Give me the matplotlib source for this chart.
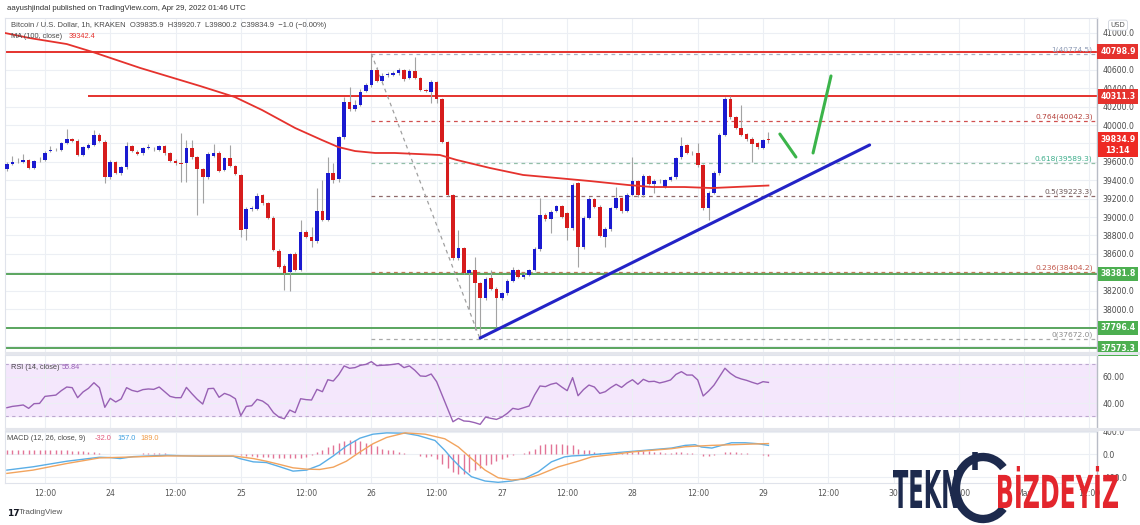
import numpy as np
import matplotlib
matplotlib.use("Agg")
import matplotlib.pyplot as plt
from matplotlib.patches import PathPatch, Rectangle, Arc
from matplotlib.textpath import TextPath
from matplotlib.font_manager import FontProperties
from matplotlib.transforms import Affine2D, blended_transform_factory

# ===== data (prices) =====
# hourly candles, x = hours counted from Apr 23 00:00
hours = np.arange(5, 146)

opens = [39518, 39576, 39605, 39598, 39620, 39533, 39616, 39620, 39718, 39725,
         39728, 39801, 39844, 39830, 39674, 39747, 39783, 39895, 39819, 39431,
         39598, 39482, 39540, 39772, 39707, 39692, 39747, 39739, 39728, 39772,
         39692, 39612, 39583, 39583, 39747, 39649, 39518, 39431, 39663, 39699,
         39511, 39638, 39555, 39457, 38873, 39091, 39091, 39239, 39149, 38993,
         38634, 38468, 38402, 38598, 38424, 38837, 38786, 38736, 39065, 38968,
         39482, 39410, 39866, 40246, 40170, 40221, 40373, 40431, 40598, 40482,
         40547, 40547, 40562, 40598, 40511, 40591, 40511, 40381, 40362, 40467,
         40279, 39819, 39239, 38551, 38660, 38395, 38424, 38279, 38116, 38337,
         38221, 38116, 38170, 38308, 38424, 38344, 38373, 38424, 38649, 39018,
         38975, 39069, 39120, 39040, 38877, 39366, 38670, 38993, 39192, 39113,
         38786, 38866, 39094, 39207, 39069, 39243, 39388, 39236, 39446, 39359,
         39395, 39330, 39402, 39431, 39649, 39779, 39699, 39692, 39562, 39094,
         39265, 39475, 39895, 40279, 40083, 39968, 39902, 39852, 39801, 39747,
         39835.9]
highs = [39602, 39663, 39638, 39685, 39634, 39620, 39649, 39721, 39772, 39750,
         39819, 39953, 39859, 39844, 39772, 39801, 39946, 39910, 39837, 39620,
         39612, 39555, 39815, 39786, 39728, 39765, 39794, 39757, 39786, 39786,
         39707, 39634, 39910, 39837, 39837, 39663, 39533, 39707, 39794, 39714,
         39656, 39783, 39569, 39468, 39113, 39120, 39258, 39250, 39163, 39011,
         38649, 38489, 38613, 38620, 38968, 38859, 38895, 39312, 39402, 39656,
         39583, 39881, 40308, 40417, 40272, 40388, 40453, 40774.5, 40634, 40562,
         40576, 40584, 40620, 40612, 40605, 40740, 40526, 40395, 40489, 40482,
         40294, 39830, 39250, 38859, 38678, 38439, 38569, 38294, 38344, 38424,
         38236, 38185, 38330, 38460, 38439, 38395, 38439, 38670, 39203, 39040,
         39076, 39134, 39134, 39055, 39366, 39381, 39011, 39221, 39207, 39127,
         38888, 39113, 39330, 39221, 39265, 39656, 39402, 39468, 39460, 39410,
         39410, 39417, 39446, 39656, 39873, 39794, 39714, 39808, 39576, 39286,
         39504, 39910, 40301, 40311.3, 40098, 40218, 39917, 39866, 39815, 39852,
         39920.7]
lows = [39504, 39565, 39591, 39591, 39526, 39518, 39598, 39612, 39707, 39714,
        39718, 39794, 39819, 39663, 39663, 39736, 39772, 39819, 39373, 39410,
        39468, 39453, 39526, 39707, 39670, 39678, 39736, 39721, 39714, 39678,
        39598, 39569, 39384, 39384, 39634, 39022, 39149, 39417, 39649, 39489,
        39497, 39540, 39453, 38786, 38750, 39069, 39076, 39134, 38978, 38627,
        38446, 38207, 38200, 38410, 38410, 38772, 38678, 38721, 38953, 38953,
        39373, 39381, 39852, 40156, 40149, 40207, 40359, 40417, 40467, 40467,
        40526, 40533, 40547, 40482, 40496, 40496, 40366, 40359, 40236, 40236,
        39808, 39228, 38533, 38533, 38381, 37997, 37772, 37672, 38098, 38207,
        37808, 38098, 38156, 38294, 38337, 38330, 38359, 38410, 38634, 38960,
        38830, 39055, 38989, 38750, 38859, 38460, 38656, 38978, 39098, 38779,
        38678, 38852, 39084, 39040, 39055, 39228, 39221, 39221, 39344, 39258,
        39373, 39315, 39388, 39417, 39634, 39685, 39678, 39547, 39076, 38968,
        39250, 39460, 39881, 40069, 39953, 39877, 39830, 39602, 39743, 39736,
        39800.2]
closes = [39576, 39598, 39612, 39620, 39533, 39605, 39623, 39699, 39725, 39732,
          39801, 39844, 39830, 39674, 39757, 39783, 39895, 39830, 39431, 39598,
          39482, 39540, 39772, 39721, 39685, 39750, 39757, 39736, 39772, 39692,
          39612, 39583, 39580, 39747, 39649, 39518, 39431, 39685, 39699, 39504,
          39638, 39555, 39468, 38859, 39091, 39094, 39232, 39149, 38993, 38641,
          38460, 38395, 38598, 38424, 38837, 38786, 38736, 39065, 38968, 39475,
          39402, 39866, 40246, 40170, 40221, 40362, 40431, 40598, 40482, 40533,
          40551, 40562, 40598, 40496, 40591, 40511, 40381, 40373, 40467, 40279,
          39819, 39239, 38551, 38660, 38395, 38424, 38279, 38116, 38323, 38221,
          38116, 38170, 38308, 38424, 38352, 38373, 38424, 38649, 39018, 38975,
          39055, 39120, 39004, 38877, 39348, 38670, 38993, 39192, 39113, 38794,
          38866, 39094, 39207, 39069, 39243, 39388, 39236, 39446, 39359, 39395,
          39388, 39402, 39431, 39638, 39772, 39699, 39692, 39562, 39094, 39265,
          39482, 39888, 40279, 40083, 39968, 39891, 39844, 39794, 39757, 39837,
          39834.9]

# MA(100) read at a few points
ma_t = [4.65, 9.2, 16, 20.8, 29.5, 40.5, 46.9, 51.9, 58, 62.9, 65.9, 69, 72.7, 76.3,
        84.6, 87.7, 93.8, 99.9, 106.1, 112.2, 119.2, 123.6, 129.6, 134.6, 138.8, 145]
ma_v = [41000, 40945, 40880, 40793, 40620, 40424, 40304, 40163, 39967, 39837, 39761,
        39717, 39696, 39696, 39674, 39620, 39533, 39457, 39424, 39391, 39348, 39326,
        39326, 39315, 39326, 39342.4]

rsi = [36.4, 37.4, 37.9, 38.5, 35.9, 39.5, 39.7, 45.1, 45.6, 46.1,
       49.5, 52.3, 51.8, 44.1, 48.5, 51.3, 55.6, 51.8, 36.7, 43.6,
       40.8, 43.1, 51.8, 49.7, 48.7, 50.3, 50.8, 50.5, 52.3, 48.7,
       45.1, 44.1, 44.1, 52.0, 47.2, 42.8, 39.2, 51.0, 51.3, 44.4,
       47.4, 45.9, 43.3, 30.3, 37.4, 37.9, 42.8, 41.5, 38.5, 32.6,
       29.2, 27.9, 34.6, 32.6, 43.3, 42.6, 42.3, 50.5, 48.7, 57.9,
       56.9, 61.8, 68.5, 66.7, 67.2, 69.0, 69.7, 71.8, 68.7, 69.0,
       69.2, 69.7, 70.3, 67.2, 68.5, 65.1, 60.8, 60.5, 62.3, 56.4,
       46.1, 35.9, 25.6, 28.2, 26.2, 25.9, 24.9, 23.6, 29.2, 28.2,
       27.4, 29.2, 32.1, 35.9, 35.1, 36.4, 37.7, 46.1, 53.1, 52.6,
       54.4, 55.4, 52.3, 49.5, 59.5, 45.6, 50.3, 53.8, 52.3, 47.4,
       48.7, 51.8, 54.4, 52.0, 55.4, 57.9, 54.4, 58.2, 56.4, 56.7,
       55.4, 56.4, 57.7, 62.0, 64.1, 61.5, 61.5, 57.7, 45.4, 49.2,
       53.8, 60.3, 66.7, 62.8, 60.0, 58.5, 57.4, 55.9, 54.6, 56.4,
       55.84]

macd_t = [5, 9.8, 16, 22, 24, 25.8, 28.2, 34.4, 40.5, 46.6, 47.8, 50.3, 52.7, 55.2,
          57.6, 60.1, 62.5, 65, 67.4, 69.9, 72.3, 74.8, 78.2, 80.6, 83.7, 85.5, 86.8,
          88.6, 90.4, 92.9, 95.3, 97.8, 100.2, 102.7, 105.1, 107.5, 108.8, 111.3,
          114.9, 118.6, 122.3, 127.2, 129.7, 131.5, 132.7, 134.6, 136.4, 138.2,
          140.7, 143.1, 145]
macd_v = [-278, -220, -122, -52, -58, -75, -41, -17, -35, -35, -75, -133, -145, -220,
          -296, -278, -191, -29, 145, 284, 354, 377, 371, 330, 243, 70, -75,
          -249, -394, -470, -493, -470, -423, -307, -133, -46, -29, -17,
          12, 41, 70, 110, 157, 168, 128, 110, 157, 203,
          203, 186, 157]
signal_t = [5, 9.8, 16, 22, 28.2, 34.4, 40.5, 46.6, 50.3, 52.7, 55.2, 57.6, 60.1, 62.5,
            65, 67.4, 69.9, 72.3, 74.8, 78.2, 81.9, 85.5, 88, 90.4, 92.9, 95.3, 97.8,
            100.2, 102.7, 106.4, 110, 112.5, 116.2, 119.9, 123.5, 127.2, 129.7, 132.1,
            134.6, 138.2, 141.9, 145]
signal_v = [-336, -278, -162, -64, -46, -29, -29, -29, -75, -122, -180, -238, -261, -267,
            -226, -122, 41, 186, 296, 377, 354, 273, 128, -75, -278, -412, -452,
            -435, -365, -220, -122, -46, -6, 41, 70, 99, 133, 145,
            157, 168, 180, 189]
hist = [70, 70, 70, 70, 70, 70, 70, 70, 70, 70,
        70, 70, 65, 60, 55, 45, 35, 25, 10, 5,
        3, 2, 8, 10, 12, 15, 18, 20, 18, 15,
        10, 8, 6, 6, 5, 4, 2, 3, 4, 3,
        2, 2, 1, -20, -30, -35, -40, -45, -50, -60,
        -65, -70, -72, -70, -60, -40, -5, 40, 70, 128,
        168, 203, 232, 244, 244, 226, 203, 174, 139, 87,
        80, 70, 41, 23, 12, 3, -29, -46, -35, -87,
        -162, -249, -307, -354, -348, -307, -278, -249, -191, -162,
        -122, -87, -46, -17, 12, 23, 52, 99, 157, 180,
        180, 186, 186, 157, 157, 99, 81, 70, 41, 29,
        6, -3, 23, 29, 41, 41, 52, 52, 52, 41,
        41, 29, 29, 41, 41, 29, 23, 2, -29, -35,
        -17, 2, 41, 41, 41, 29, 23, 6, -3, -8,
        -32]

# drawings
red_levels = [40798.9, 40311.3]
green_levels = [38381.8, 37796.4, 37573.3]
fib_ratios = ["1", "0.764", "0.618", "0.5", "0.236", "0"]
fib_prices = [40774.5, 40042.3, 39589.3, 39223.3, 38404.2, 37672.0]
fib_diag_t = [72, 92]
fib_diag_p = [40774.5, 37672.0]
trend_t = [92, 163.6]
trend_p = [37685, 39783]
stroke1_t = [147.1, 150.05]
stroke1_p = [39902, 39652]
stroke2_t = [153.2, 156.5]
stroke2_p = [39696, 40533]

x_ticks = list(range(12, 205, 12))
x_labels = ["12:00", "24", "12:00", "25", "12:00", "26", "12:00", "27", "12:00",
            "28", "12:00", "29", "12:00", "30", "12:00", "May", "12:00"]
price_ticks = list(range(37600, 41001, 200))
hidden_ticks = [37600, 37800, 38400, 39800, 40800]   # sit under the coloured tags

UP = "#1a1ad0"
DOWN = "#d61c1c"
RED = "#e5322d"
GREEN = "#5aa55e"

W, H = 1140, 525
fig = plt.figure(figsize=(W / 100, H / 100), dpi=100)


def frac(x0, y0, x1, y1):
    return [x0 / W, 1 - y1 / H, (x1 - x0) / W, (y1 - y0) / H]


ax = fig.add_axes(frac(5, 18, 1097, 352))
ax_rsi = fig.add_axes(frac(5, 355, 1097, 428), sharex=ax)
ax_macd = fig.add_axes(frac(5, 431, 1097, 483), sharex=ax)

for a in (ax, ax_rsi, ax_macd):
    a.set_facecolor("white")
    for s in ("top", "left", "bottom"):
        a.spines[s].set_color("#e0e3eb")
        a.spines[s].set_linewidth(0.8)
    a.spines["right"].set_color("#b8bcc6")
    a.spines["right"].set_linewidth(1.0)
    a.grid(True, color="#eceff4", lw=0.8)
    a.set_axisbelow(True)
    a.yaxis.tick_right()
    a.tick_params(length=0, labelsize=5.6, labelcolor="#4a4a4a", pad=4)

ax.set_xlim(4.65, 205.4)
ax.set_xticks(x_ticks)
ax_macd.set_xticklabels(x_labels)
ax.tick_params(labelbottom=False)
ax_rsi.tick_params(labelbottom=False)

# ---------- main price panel ----------
ax.set_ylim(37533, 41163)
ax.set_yticks(price_ticks)
ax.set_yticklabels(["" if p in hidden_ticks else f"{p:.1f}" for p in price_ticks])

o = np.array(opens)
c = np.array(closes)
hi = np.array(highs)
lo = np.array(lows)
up = c >= o
body_lo = np.minimum(o, c)
body_h = np.maximum(np.abs(c - o), 8)
ax.vlines(hours, lo, hi, color="#a3a3a3", lw=0.8, zorder=3)
ax.bar(hours, body_h, bottom=body_lo, width=0.66,
       color=np.where(up, UP, DOWN), linewidth=0, zorder=4)

ax.plot(ma_t, ma_v, color=RED, lw=1.3, zorder=5)

ax.hlines(red_levels[0], 4.65, 205.4, color=RED, lw=1.4, zorder=2)
ax.hlines(red_levels[1], 19.9, 205.4, color=RED, lw=1.4, zorder=2)
for g in green_levels:
    ax.hlines(g, 4.65, 205.4, color=GREEN, lw=1.4, zorder=2)

fib_line_cols = ["#a9b1c2", "#d05050", "#93bfa8", "#8f6a6a", "#c07a58", "#aaaaaa"]
fib_text_cols = ["#8e9bb5", "#b5413b", "#3fae8c", "#6b5757", "#c2574a", "#8c8c8c"]
for r, p, lc, tc in zip(fib_ratios, fib_prices, fib_line_cols, fib_text_cols):
    ax.hlines(p, 72, 205.0, color=lc, lw=0.9, linestyles=(0, (3, 3)), zorder=2)
    ax.text(204.6, p + 12, f"{r}({p:.1f})", ha="right", va="bottom",
            fontsize=5.4, color=tc, zorder=6)
ax.plot(fib_diag_t, fib_diag_p, color="#a0a0a0", lw=0.9, ls=(0, (3, 3)), zorder=2)

ax.plot(trend_t, trend_p, color="#2323c6", lw=2.2, solid_capstyle="round", zorder=6)
ax.plot(stroke1_t, stroke1_p, color="#3bb44a", lw=2.2, solid_capstyle="round", zorder=6)
ax.plot(stroke2_t, stroke2_p, color="#3bb44a", lw=2.2, solid_capstyle="round", zorder=6)

# right-hand price tags
tag_tr = blended_transform_factory(ax.transAxes, ax.transData)


def price_tag(y, text, color, va="center"):
    ax.text(1.0192, y, text, transform=tag_tr, ha="center", va=va, fontsize=5.6,
            color="white", fontweight="bold", clip_on=False, zorder=10,
            bbox=dict(boxstyle="square,pad=0.35", fc=color, ec="none"))


for lv in red_levels:
    price_tag(lv, f"{lv:.1f}", RED)
for lv in green_levels:
    price_tag(lv, f"{lv:.1f}", "#4caf50")
price_tag(closes[-1] + 55, f"{closes[-1]:.1f}\n13:14", "#ee2a24", va="top")

ax.text(1.0192, 41085, "USD", transform=tag_tr, ha="center", va="center",
        fontsize=5, color="#555555", clip_on=False, zorder=10,
        bbox=dict(boxstyle="round,pad=0.3", fc="white", ec="#cfd3dc", lw=0.6))

# ---------- RSI panel ----------
ax_rsi.set_ylim(20.8, 76.9)
ax_rsi.set_yticks([40, 60])
ax_rsi.yaxis.set_major_formatter(matplotlib.ticker.FormatStrFormatter("%.2f"))
ax_rsi.axhspan(30, 70, color="#f4e7fc", zorder=0)
ax_rsi.hlines([30, 70], 4.65, 205.4, color="#bca8cf", lw=0.8,
              linestyles=(0, (3, 3)), zorder=1)
ax_rsi.plot(hours, rsi, color="#9861b4", lw=1.0, zorder=3)

# ---------- MACD panel ----------
ax_macd.set_ylim(-505, 410)
ax_macd.set_yticks([-400, 0, 400])
ax_macd.yaxis.set_major_formatter(matplotlib.ticker.FormatStrFormatter("%.1f"))
ax_macd.vlines(hours, 0, hist, color="#e27496", lw=1.0, zorder=2)
ax_macd.plot(macd_t, macd_v, color="#5aaee6", lw=1.0, zorder=3)
ax_macd.plot(signal_t, signal_v, color="#f2a45e", lw=1.0, zorder=3)
ax_macd.tick_params(axis="x", pad=4, labelcolor="#555555")

# ---------- overlay: texts, separators, watermark ----------
ov = fig.add_axes([0, 0, 1, 1], zorder=20)
ov.set_xlim(0, W)
ov.set_ylim(H, 0)
ov.axis("off")
ov.patch.set_alpha(0)

ov.add_patch(Rectangle((5, 352.2), 1135, 2.6, color="#e4e6ec", lw=0))
ov.add_patch(Rectangle((5, 428.2), 1135, 2.6, color="#e4e6ec", lw=0))

hf = "Liberation Sans"
ov.text(7, 8.5, "aayushjindal published on TradingView.com, Apr 29, 2022 01:46 UTC",
        fontsize=5.6, family=hf, color="#333333", va="center")
ov.text(11, 25.5, "Bitcoin / U.S. Dollar, 1h, KRAKEN  O39835.9  H39920.7  L39800.2  "
        "C39834.9  \u22121.0 (\u22120.00%)",
        fontsize=5.5, family=hf, color="#4a4a4a", va="center")
ov.text(11, 37, "MA (100, close)", fontsize=5.3, family=hf, color="#4a4a4a", va="center")
ov.text(69, 37, "39342.4", fontsize=5.3, family=hf, color=RED, va="center")
ov.text(11, 367.5, "RSI (14, close)", fontsize=5.3, family=hf, color="#4a4a4a", va="center")
ov.text(62, 367.5, "55.84", fontsize=5.3, family=hf, color="#9861b4", va="center")
ov.text(7, 438, "MACD (12, 26, close, 9)", fontsize=5.3, family=hf, color="#4a4a4a",
        va="center")
ov.text(95, 438, "-32.0", fontsize=5.3, family=hf, color="#e2577a", va="center")
ov.text(117, 438, "157.0", fontsize=5.3, family=hf, color="#3fa0e0", va="center")
ov.text(140, 438, "189.0", fontsize=5.3, family=hf, color="#f09a45", va="center")

ov.text(7, 513, "17", fontsize=6.5, fontweight="bold", color="#131722", va="center")
ov.text(19, 513, "TradingView", fontsize=5.8, family=hf, color="#555555", va="center")


def fit_text(s, x0, x1, y_top, y_bot, color):
    tp = TextPath((0, 0), s, size=1, prop=FontProperties(family="DejaVu Sans", weight="bold"))
    bb = tp.get_extents()
    sx = (x1 - x0) / bb.width
    sy = (y_bot - y_top) / bb.height
    tr = Affine2D().translate(-bb.x0, -bb.y0).scale(sx, -sy).translate(x0, y_bot)
    ov.add_patch(PathPatch(tr.transform_path(tp), fc=color, ec="none"))


NAVY = "#1d2a4d"
ov.add_patch(Arc((983, 488), 54, 62, theta1=45, theta2=315, color=NAVY, lw=6))
ov.plot([975, 975], [452, 470], color=NAVY, lw=4, solid_capstyle="butt")
fit_text("TEKN", 893, 958, 470, 508, NAVY)
fit_text("B\u0130ZDEY\u0130Z", 998, 1118, 466, 508, "#e3262d")

fig.savefig("out.png", dpi=100, facecolor="white")
